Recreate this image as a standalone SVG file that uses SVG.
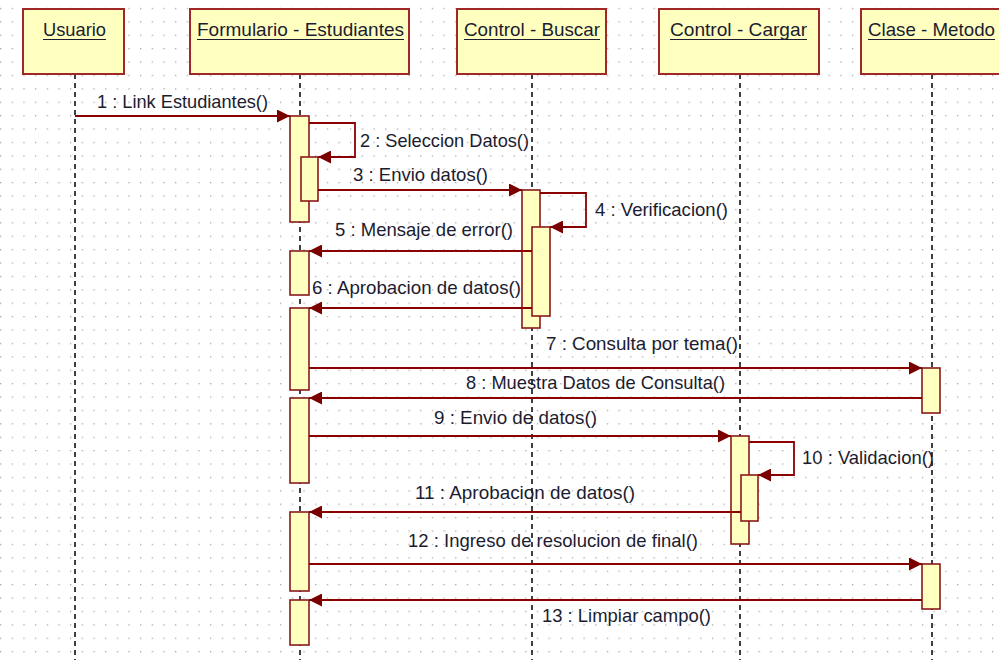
<svg xmlns="http://www.w3.org/2000/svg" width="999" height="660" viewBox="0 0 999 660">
<style>
.head{fill:#ffffc0;stroke:#a02828;stroke-width:2}
.act{fill:#ffffc0;stroke:#8b1a1a;stroke-width:1.6}
.life{stroke:#000;stroke-width:1.5;stroke-dasharray:5 4;fill:none}
.msg{stroke:#8b0000;stroke-width:1.8;fill:none;marker-end:url(#ah)}
.t{font-family:"Liberation Sans",Arial,sans-serif;font-size:19px;fill:#1c1c30}
.ul{stroke:#1c1c30;stroke-width:1.2}
</style>
<defs>
<pattern id="grid" patternUnits="userSpaceOnUse" x="0" y="7.8" width="11.67" height="13.4">
<rect x="0" y="0" width="1.3" height="1.3" fill="#a8a8a8"/>
</pattern>
<marker id="ah" markerUnits="userSpaceOnUse" viewBox="0 0 13 13" refX="13" refY="6.5" markerWidth="13" markerHeight="13" orient="auto">
<path d="M0,0 L13,6.5 L0,13 z" fill="#7a0000"/>
</marker>
</defs>
<rect width="999" height="660" fill="#fff"/>
<rect width="999" height="660" fill="url(#grid)"/>

<g id="usuario">
<line class="life" x1="75" y1="74" x2="75" y2="660"/>
<rect class="head" x="23" y="9" width="101" height="65"/>
<text class="t" x="43" y="36" textLength="63" lengthAdjust="spacingAndGlyphs">Usuario</text>
<line class="ul" x1="43" y1="39.5" x2="106" y2="39.5"/>
</g>

<g id="formulario">
<line class="life" x1="300" y1="74" x2="300" y2="660"/>
<rect class="head" x="190" y="9" width="219" height="65"/>
<text class="t" x="197" y="36" textLength="207" lengthAdjust="spacingAndGlyphs">Formulario - Estudiantes</text>
<line class="ul" x1="197" y1="39.5" x2="404" y2="39.5"/>
<rect class="act" x="290" y="116" width="19" height="106"/>
<rect class="act" x="301" y="157" width="17" height="44"/>
<rect class="act" x="290" y="251" width="19" height="44"/>
<rect class="act" x="290" y="308" width="19" height="82"/>
<rect class="act" x="290" y="398" width="19" height="85"/>
<rect class="act" x="290" y="512" width="19" height="79"/>
<rect class="act" x="290" y="600" width="19" height="45"/>
</g>

<g id="buscar">
<line class="life" x1="532" y1="74" x2="532" y2="660"/>
<rect class="head" x="457" y="9" width="149" height="65"/>
<text class="t" x="464" y="36" textLength="136" lengthAdjust="spacingAndGlyphs">Control - Buscar</text>
<line class="ul" x1="464" y1="39.5" x2="600" y2="39.5"/>
<rect class="act" x="522" y="190" width="18" height="138"/>
<rect class="act" x="532" y="227" width="18" height="89"/>
</g>

<g id="cargar">
<line class="life" x1="740" y1="74" x2="740" y2="660"/>
<rect class="head" x="659" y="9" width="160" height="65"/>
<text class="t" x="670" y="36" textLength="137" lengthAdjust="spacingAndGlyphs">Control - Cargar</text>
<line class="ul" x1="670" y1="39.5" x2="807" y2="39.5"/>
<rect class="act" x="731" y="436" width="18" height="108"/>
<rect class="act" x="741" y="475" width="17" height="46"/>
</g>

<g id="clase">
<line class="life" x1="932" y1="74" x2="932" y2="660"/>
<rect class="head" x="861" y="9" width="145" height="65"/>
<text class="t" x="868" y="36" textLength="127" lengthAdjust="spacingAndGlyphs">Clase - Metodo</text>
<line class="ul" x1="868" y1="39.5" x2="995" y2="39.5"/>
<rect class="act" x="922" y="368" width="18" height="45"/>
<rect class="act" x="922" y="564" width="18" height="45"/>
</g>

<g id="connectors">
<path class="msg" d="M75,116 H290"/>
<path class="msg" d="M309,123 H355 V157 H318"/>
<path class="msg" d="M318,190 H522"/>
<path class="msg" d="M540,193 H586 V227 H550"/>
<path class="msg" d="M532,251 H309"/>
<path class="msg" d="M532,308 H309"/>
<path class="msg" d="M309,368 H922"/>
<path class="msg" d="M922,398 H309"/>
<path class="msg" d="M309,436 H731"/>
<path class="msg" d="M749,442 H794 V475 H758"/>
<path class="msg" d="M741,512 H309"/>
<path class="msg" d="M309,564 H922"/>
<path class="msg" d="M922,600 H309"/>
</g>

<g id="labels">
<text class="t" x="97" y="108" textLength="171" lengthAdjust="spacingAndGlyphs">1 : Link Estudiantes()</text>
<text class="t" x="360" y="147" textLength="169" lengthAdjust="spacingAndGlyphs">2 : Seleccion Datos()</text>
<text class="t" x="353" y="181" textLength="135" lengthAdjust="spacingAndGlyphs">3 : Envio datos()</text>
<text class="t" x="595" y="216" textLength="133" lengthAdjust="spacingAndGlyphs">4 : Verificacion()</text>
<text class="t" x="335" y="236" textLength="178" lengthAdjust="spacingAndGlyphs">5 : Mensaje de error()</text>
<text class="t" x="312" y="294" textLength="209" lengthAdjust="spacingAndGlyphs">6 : Aprobacion de datos()</text>
<text class="t" x="546" y="350" textLength="192" lengthAdjust="spacingAndGlyphs">7 : Consulta por tema()</text>
<text class="t" x="466" y="389" textLength="259" lengthAdjust="spacingAndGlyphs">8 : Muestra Datos de Consulta()</text>
<text class="t" x="434" y="424" textLength="163" lengthAdjust="spacingAndGlyphs">9 : Envio de datos()</text>
<text class="t" x="802" y="464" textLength="132" lengthAdjust="spacingAndGlyphs">10 : Validacion()</text>
<text class="t" x="415" y="499" textLength="220" lengthAdjust="spacingAndGlyphs">11 : Aprobacion de datos()</text>
<text class="t" x="408" y="547" textLength="290" lengthAdjust="spacingAndGlyphs">12 : Ingreso de resolucion de final()</text>
<text class="t" x="542" y="622" textLength="169" lengthAdjust="spacingAndGlyphs">13 : Limpiar campo()</text>
</g>
</svg>
